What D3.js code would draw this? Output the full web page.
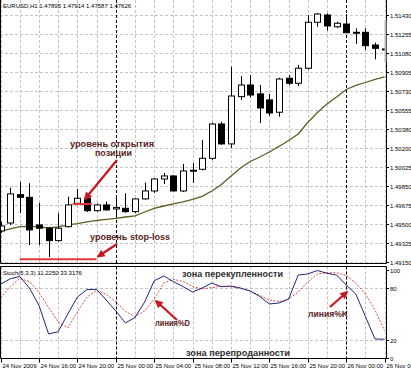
<!DOCTYPE html>
<html>
<head>
<meta charset="utf-8">
<script src="https://cdn.jsdelivr.net/npm/d3@7"></script>
<style>
body { margin: 0; background: #fff; }
svg { display: block; font-family: "Liberation Sans", Arial, sans-serif; }
</style>
</head>
<body>
<div id="chart"></div>
<script>
// EURUSD H1 bars, 24 Nov 12:00 .. 26 Nov 04:00
const barOpen = [1.49438, 1.49511, 1.49771, 1.49747, 1.49493, 1.49463, 1.49349, 1.49477, 1.49692, 1.49738,
    1.49624, 1.49677, 1.49640, 1.49646, 1.49615, 1.49732, 1.49805, 1.49915, 1.49943, 1.49805,
    1.49989, 1.50004, 1.50105, 1.50420, 1.50237, 1.50671, 1.50778, 1.50696, 1.50641, 1.50528,
    1.50840, 1.50794, 1.50932, 1.51354, 1.51421, 1.51313, 1.51338, 1.51258, 1.51262, 1.51145, 1.51109];
const barHigh = [1.49521, 1.49833, 1.49891, 1.49876, 1.49695, 1.49475, 1.49600, 1.49753, 1.49823, 1.49745,
    1.49690, 1.49707, 1.49759, 1.49784, 1.49740, 1.49883, 1.49920, 1.49970, 1.49950, 1.50053,
    1.50062, 1.50273, 1.50430, 1.50441, 1.50946, 1.50861, 1.50870, 1.50778, 1.50696, 1.50845,
    1.50870, 1.50962, 1.51421, 1.51440, 1.51435, 1.51360, 1.51430, 1.51299, 1.51299, 1.51167, 1.51115];
const barLow = [1.49420, 1.49493, 1.49603, 1.49309, 1.49309, 1.49199, 1.49340, 1.49470, 1.49680, 1.49612,
    1.49615, 1.49625, 1.49555, 1.49605, 1.49600, 1.49725, 1.49787, 1.49869, 1.49800, 1.49795,
    1.49879, 1.49995, 1.50090, 1.50228, 1.50200, 1.50641, 1.50663, 1.50429, 1.50494, 1.50487,
    1.50778, 1.50769, 1.50920, 1.51313, 1.51277, 1.51300, 1.51253, 1.51155, 1.51100, 1.51014, 1.51105];
const barClose = [1.49484, 1.49778, 1.49747, 1.49447, 1.49463, 1.49349, 1.49463, 1.49677, 1.49738, 1.49624,
    1.49677, 1.49631, 1.49654, 1.49615, 1.49732, 1.49805, 1.49915, 1.49943, 1.49805, 1.49989,
    1.49995, 1.50105, 1.50420, 1.50237, 1.50677, 1.50778, 1.50686, 1.50567, 1.50521, 1.50833,
    1.50794, 1.50932, 1.51354, 1.51430, 1.51320, 1.51345, 1.51258, 1.51262, 1.51139, 1.51115, 1.51109];
const maValues = [1.49433, 1.49456, 1.49477, 1.49479, 1.49477, 1.49465, 1.49475, 1.49493, 1.49505, 1.49521,
    1.49534, 1.49544, 1.49553, 1.49566, 1.49576, 1.49612, 1.49646, 1.49667, 1.49686, 1.49704,
    1.49727, 1.49755, 1.49805, 1.49865, 1.49943, 1.50016, 1.50076, 1.50117, 1.50163, 1.50214,
    1.50269, 1.50328, 1.50434, 1.50526, 1.50604, 1.50668, 1.50737, 1.50774, 1.50801, 1.50829, 1.50852];
const stochK = [84, 90, 92.6, 79.5, 59.7, 27.3, 29.9, 50, 69.3, 77.8,
    78, 65.9, 53.4, 39.8, 46, 63.6, 87.8, 93.2, 86.7, 81.2,
    75, 79.5, 85.2, 81, 81.8, 79.5, 76.1, 69.9, 61.4, 62.5,
    67, 94.3, 95.5, 99.4, 96.3, 94.3, 83, 72.7, 47.2, 21.6, 21.3];
const stochD = [68.2, 81, 90.3, 86.9, 74.4, 57.4, 40.9, 34.1, 52.3, 69.3,
    76.7, 72.7, 63.6, 52.8, 47.2, 53.4, 67, 85.2, 89.4, 86.9,
    81.2, 78.4, 80.1, 81.6, 80.9, 79, 76.1, 71, 65.9, 64.2,
    66.7, 75, 86.4, 95.5, 96.9, 96.9, 93.8, 85.2, 72.7, 54.5, 31];

const priceLabels = ["1.49150", "1.49325", "1.49500", "1.49675", "1.49850", "1.50025", "1.50200",
    "1.50380", "1.50555", "1.50730", "1.50905", "1.51080", "1.51255", "1.51430"];
const timeLabels = ["24 Nov 2009", "24 Nov 16:00", "24 Nov 20:00", "25 Nov 00:00", "25 Nov 04:00",
    "25 Nov 08:00", "25 Nov 12:00", "25 Nov 16:00", "25 Nov 20:00", "26 Nov 00:00", "26 Nov 04:00"];
const stochLabels = [100, 80, 20, 0];
const openLevel = 1.49686;
const stopLevel = 1.49178;

const width = 411, height = 373;
const plotRight = 386;
const mainBottom = 263.5, stochTop = 266.5, stochBottom = 358.5;

const t0 = new Date(2009, 10, 24, 12);
const t1 = new Date(2009, 10, 26, 4);
const barTimes = d3.timeHour.range(t0, d3.timeHour.offset(t1, 1));

const bars = barTimes.map(function (t, i) {
    return {t: t, o: barOpen[i], h: barHigh[i], l: barLow[i], c: barClose[i],
        ma: maValues[i], k: stochK[i], d: stochD[i]};
});

const x = d3.scaleTime().domain([t0, t1]).range([0.6, 384.6]);
const y = d3.scaleLinear().domain([1.49150, 1.51430]).range([262.3, 14]);
const ys = d3.scaleLinear().domain([0, 100]).range([358, 270]);

const svg = d3.select("#chart").append("svg")
    .attr("width", width)
    .attr("height", height);

const defs = svg.append("defs");
defs.append("clipPath").attr("id", "clipMain")
    .append("rect").attr("x", 0).attr("y", 0).attr("width", plotRight).attr("height", mainBottom);
defs.append("clipPath").attr("id", "clipStoch")
    .append("rect").attr("x", 0).attr("y", stochTop).attr("width", plotRight).attr("height", stochBottom - stochTop);
defs.append("marker").attr("id", "head")
    .attr("viewBox", "0 0 10 10").attr("refX", 8).attr("refY", 5)
    .attr("markerUnits", "userSpaceOnUse")
    .attr("markerWidth", 9).attr("markerHeight", 8)
    .attr("orient", "auto")
    .append("path").attr("d", "M0,0L10,5L0,10z").attr("fill", "#c8161d");

const gridColor = "#c4c4c4";
const hourTicks = d3.timeHour.every(2).range(t0, d3.timeHour.offset(t1, 1));
const sepTicks = [new Date(2009, 10, 25, 0), new Date(2009, 10, 26, 0)];

// grid - main
const gMain = svg.append("g").attr("clip-path", "url(#clipMain)");
gMain.selectAll(".hgrid").data(priceLabels).enter().append("line")
    .attr("x1", 0).attr("x2", plotRight)
    .attr("y1", function (d, i) { return Math.round(y(1.49150 + i * 0.00175)) + 0.5; })
    .attr("y2", function (d, i) { return Math.round(y(1.49150 + i * 0.00175)) + 0.5; })
    .attr("stroke", gridColor).attr("stroke-dasharray", "3,2");
gMain.selectAll(".vgrid").data(hourTicks).enter().append("line")
    .attr("x1", function (d) { return Math.round(x(d)) + 0.5; })
    .attr("x2", function (d) { return Math.round(x(d)) + 0.5; })
    .attr("y1", 0).attr("y2", mainBottom)
    .attr("stroke", gridColor).attr("stroke-dasharray", "3,2");
gMain.selectAll(".sep").data(sepTicks).enter().append("line")
    .attr("x1", function (d) { return Math.round(x(d)) + 0.5; })
    .attr("x2", function (d) { return Math.round(x(d)) + 0.5; })
    .attr("y1", 0).attr("y2", mainBottom)
    .attr("stroke", "#000").attr("stroke-dasharray", "3,2");

// grid - stoch
const gSt = svg.append("g").attr("clip-path", "url(#clipStoch)");
gSt.selectAll(".vgrid").data(hourTicks).enter().append("line")
    .attr("x1", function (d) { return Math.round(x(d)) + 0.5; })
    .attr("x2", function (d) { return Math.round(x(d)) + 0.5; })
    .attr("y1", stochTop).attr("y2", stochBottom)
    .attr("stroke", gridColor).attr("stroke-dasharray", "3,2");
gSt.selectAll(".lvl").data([80, 20]).enter().append("line")
    .attr("x1", 0).attr("x2", plotRight)
    .attr("y1", function (d) { return Math.round(ys(d)) + 0.5; })
    .attr("y2", function (d) { return Math.round(ys(d)) + 0.5; })
    .attr("stroke", gridColor).attr("stroke-dasharray", "3,2");
gSt.selectAll(".sep").data(sepTicks).enter().append("line")
    .attr("x1", function (d) { return Math.round(x(d)) + 0.5; })
    .attr("x2", function (d) { return Math.round(x(d)) + 0.5; })
    .attr("y1", stochTop).attr("y2", stochBottom)
    .attr("stroke", "#000").attr("stroke-dasharray", "3,2");

// moving average
gMain.append("path").datum(bars)
    .attr("fill", "none").attr("stroke", "#5e5e24").attr("stroke-width", 1.3)
    .attr("d", d3.line().x(function (d) { return x(d.t); }).y(function (d) { return y(d.ma); }));

// candles
const candle = gMain.selectAll(".candle").data(bars).enter().append("g");
candle.append("line")
    .attr("x1", function (d) { return Math.round(x(d.t)) + 0.5; })
    .attr("x2", function (d) { return Math.round(x(d.t)) + 0.5; })
    .attr("y1", function (d) { return y(d.h); })
    .attr("y2", function (d) { return y(d.l); })
    .attr("stroke", "#000");
candle.append("rect")
    .attr("x", function (d) { return Math.round(x(d.t)) - 2.5; })
    .attr("width", 6)
    .attr("y", function (d) { return y(Math.max(d.o, d.c)); })
    .attr("height", function (d) { return Math.max(1, y(Math.min(d.o, d.c)) - y(Math.max(d.o, d.c))); })
    .attr("fill", function (d) { return d.c >= d.o ? "#fff" : "#000"; })
    .attr("stroke", "#000").attr("stroke-width", 1);

// levels
const lvlColor = "#e23a3a";
gMain.append("line")
    .attr("x1", x(new Date(2009, 10, 24, 19, 30))).attr("x2", x(new Date(2009, 10, 24, 21, 30)))
    .attr("y1", y(openLevel)).attr("y2", y(openLevel))
    .attr("stroke", lvlColor).attr("stroke-width", 2);
gMain.append("line")
    .attr("x1", x(new Date(2009, 10, 24, 14))).attr("x2", x(new Date(2009, 10, 24, 22)))
    .attr("y1", y(stopLevel)).attr("y2", y(stopLevel))
    .attr("stroke", lvlColor).attr("stroke-width", 2);

// stochastic
gSt.append("path").datum(bars)
    .attr("fill", "none").attr("stroke", "#e04848").attr("stroke-width", 1)
    .attr("stroke-dasharray", "2,1.5")
    .attr("d", d3.line().x(function (d) { return x(d.t); }).y(function (d) { return ys(d.d); }));
gSt.append("path").datum(bars)
    .attr("fill", "none").attr("stroke", "#23237a").attr("stroke-width", 1)
    .attr("d", d3.line().x(function (d) { return x(d.t); }).y(function (d) { return ys(d.k); }));

// frames
const frame = svg.append("g").attr("stroke", "#000").attr("fill", "none");
frame.append("path").attr("d", "M0.5,0V" + mainBottom + "H" + (plotRight + 0.5) + "V0");
frame.append("path").attr("d", "M0.5," + stochBottom + "V" + stochTop + "H" + (plotRight + 0.5) + "V" + stochBottom + "H0.5");
svg.append("line").attr("x1", plotRight - 0.5).attr("x2", plotRight - 0.5).attr("y1", 20).attr("y2", 62)
    .attr("stroke", "#b8b8b8").attr("stroke-width", 2);

// price axis
const axisFont = 6;
const pAxis = svg.append("g").attr("font-size", axisFont).attr("fill", "#000");
priceLabels.forEach(function (lab, i) {
    const py = Math.round(y(1.49150 + i * 0.00175)) + 0.5;
    pAxis.append("line").attr("x1", plotRight).attr("x2", plotRight + 3).attr("y1", py).attr("y2", py).attr("stroke", "#000");
    pAxis.append("text").attr("x", plotRight + 4).attr("y", py + 2).text(lab);
});
stochLabels.forEach(function (v) {
    const py = Math.round(ys(v)) + 0.5;
    pAxis.append("line").attr("x1", plotRight).attr("x2", plotRight + 3).attr("y1", py).attr("y2", py).attr("stroke", "#000");
    pAxis.append("text").attr("x", plotRight + 4).attr("y", py + 2).text(v);
});

// time axis
const tTicks = d3.timeHour.every(4).range(t0, d3.timeHour.offset(t1, 1));
tTicks.forEach(function (t, i) {
    const tx = Math.round(x(t)) + 0.5;
    pAxis.append("line").attr("x1", tx).attr("x2", tx).attr("y1", stochBottom).attr("y2", stochBottom + 4).attr("stroke", "#000");
    pAxis.append("text").attr("x", tx + 1).attr("y", 368).text(timeLabels[i]);
});

// captions
svg.append("text").attr("x", 3).attr("y", 8).attr("font-size", axisFont)
    .text("EURUSD,H1  1.47895 1.47914 1.47587 1.47626");
svg.append("text").attr("x", 3).attr("y", 275).attr("font-size", axisFont)
    .text("Stoch(5,3,3) 11.2250 33.3176");

const noteColor = "#5a2424";
function note(tx, ty, txt, anchor, color, len) {
    svg.append("text").attr("x", tx).attr("y", ty)
        .attr("text-anchor", anchor).attr("font-size", 9).attr("font-weight", "bold")
        .attr("fill", color)
        .attr("textLength", len).attr("lengthAdjust", "spacingAndGlyphs")
        .text(txt);
}
note(112, 147, "уровень открытия", "middle", noteColor, 84);
note(113.5, 156, "позиции", "middle", noteColor, 37);
note(130, 240, "уровень stop-loss", "middle", noteColor, 80);
note(155, 326, "линия%D", "start", noteColor, 35);
note(308, 316.5, "линия%K", "start", noteColor, 40);
note(182, 277, "зона перекупленности", "start", "#303030", 101);
note(186, 355.5, "зона перепроданности", "start", "#303030", 104);

function arrow(x1, y1, x2, y2) {
    svg.append("line").attr("x1", x1).attr("y1", y1).attr("x2", x2).attr("y2", y2)
        .attr("stroke", "#c8161d").attr("stroke-width", 2.2)
        .attr("marker-end", "url(#head)");
}
arrow(117, 160, 85, 199);
arrow(117, 244, 98, 256.5);
arrow(177, 320, 156, 301);
arrow(330, 307, 347, 292);
</script>
</body>
</html>
